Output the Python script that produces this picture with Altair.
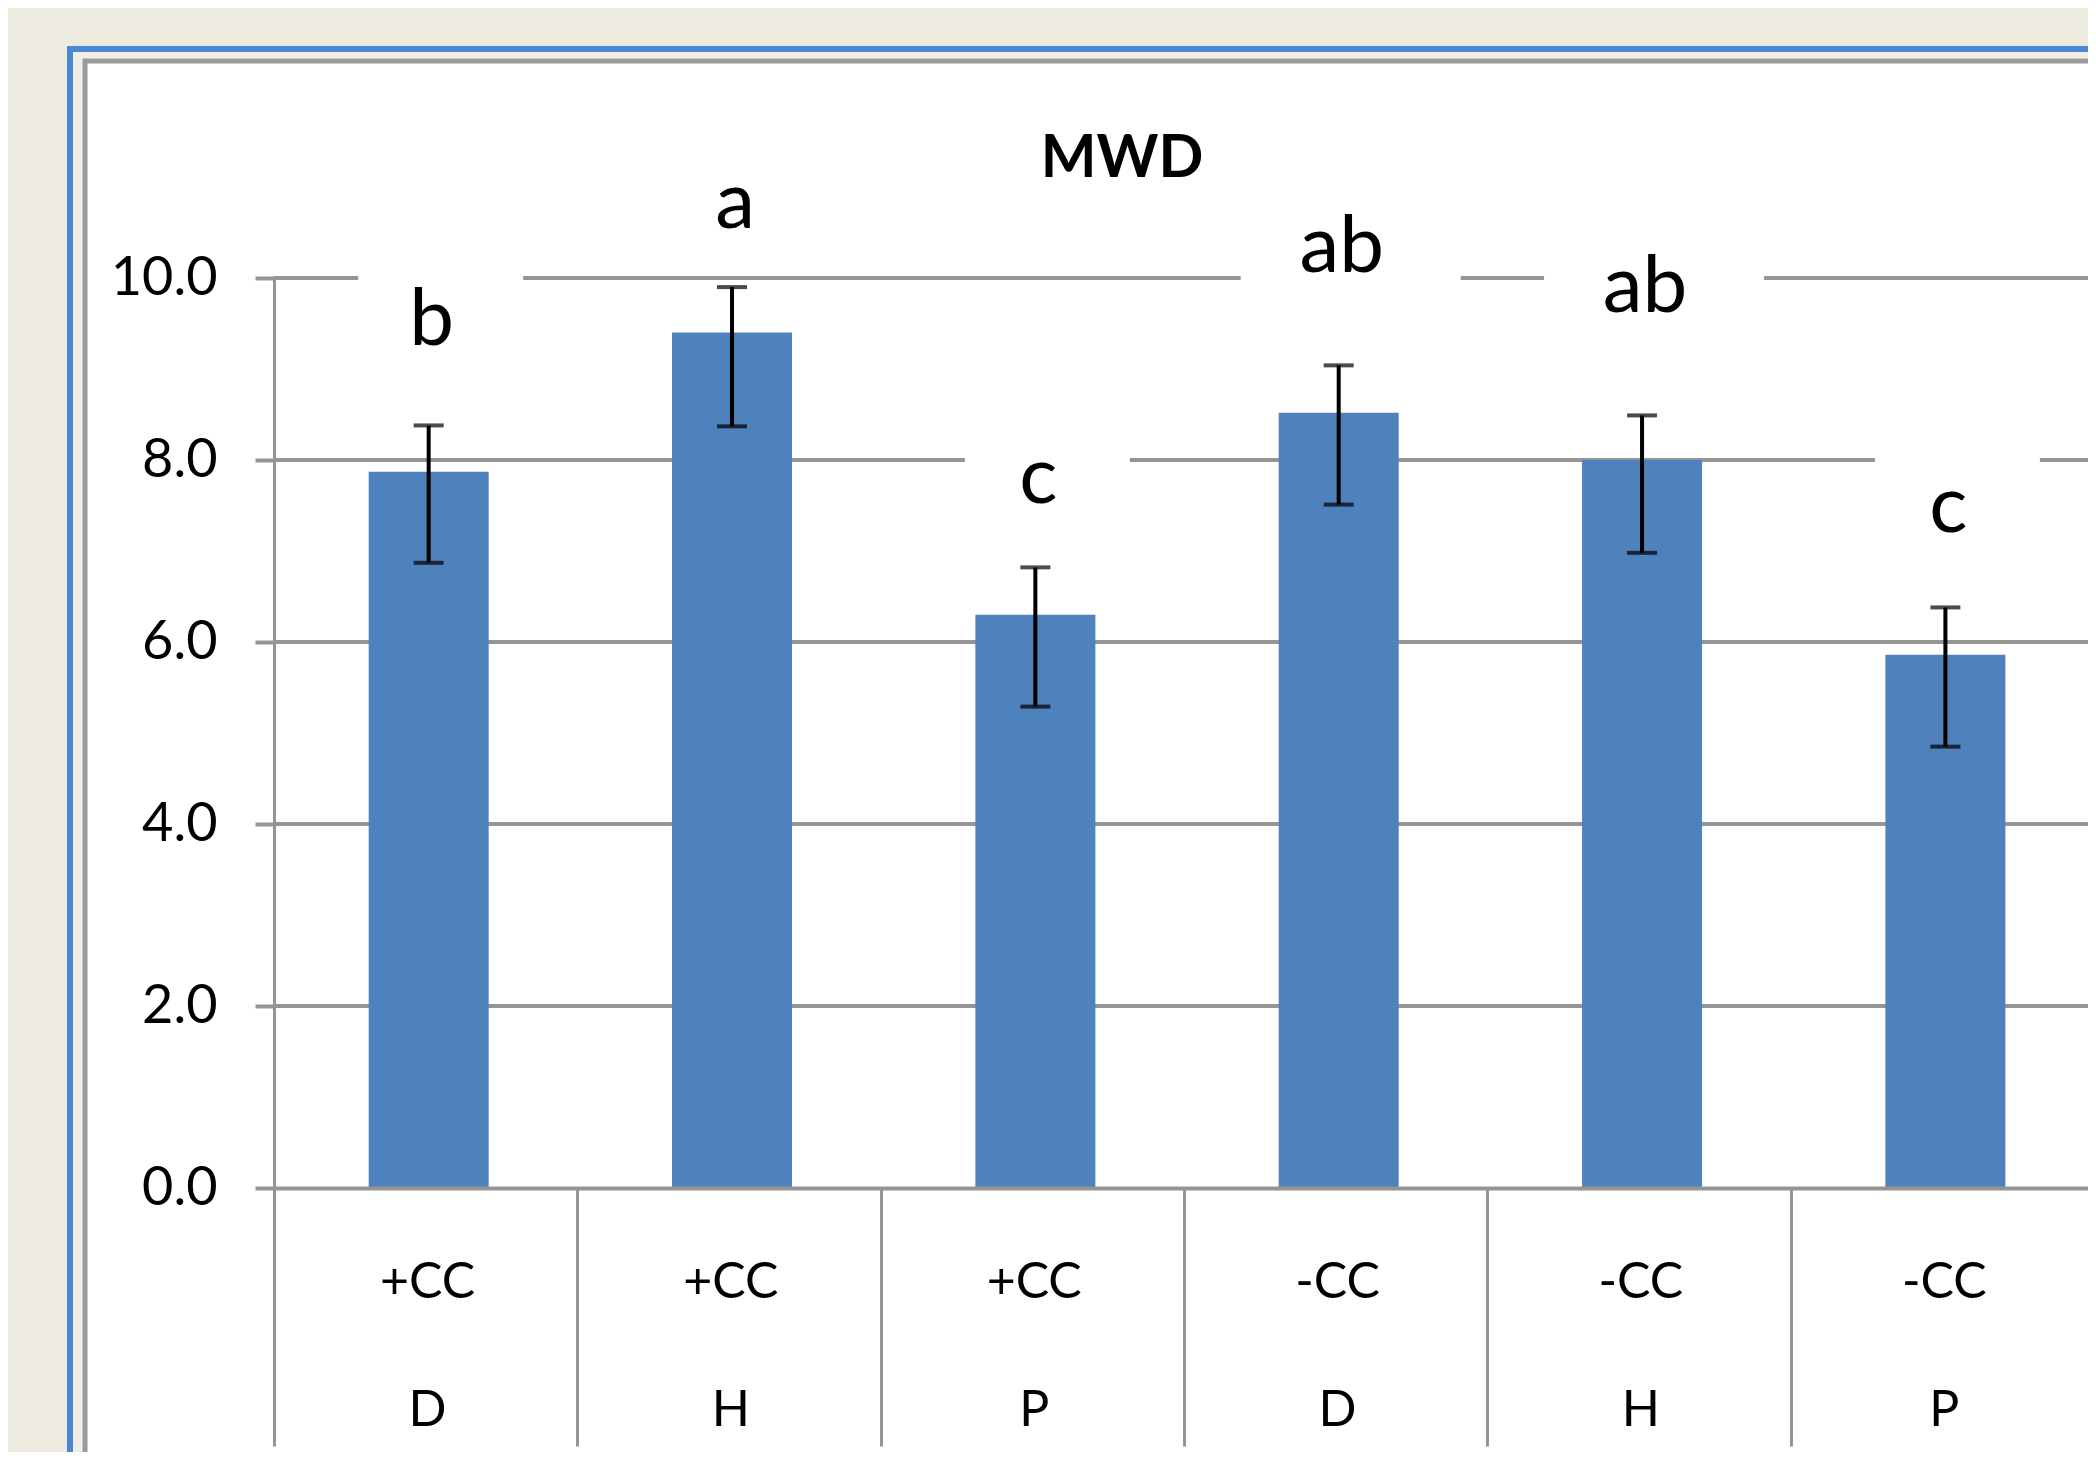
import json
import altair as alt
import pandas as pd

# ---------------- data ----------------
treatment = ["+CC", "+CC", "+CC", "-CC", "-CC", "-CC"]
site = ["D", "H", "P", "D", "H", "P"]
mwd = [7.87, 9.40, 6.30, 8.52, 8.00, 5.86]
err_high = [8.38, 9.90, 6.82, 9.04, 8.49, 6.38]
err_low = [6.87, 8.37, 5.29, 7.51, 6.98, 4.85]
letters = ["b", "a", "c", "ab", "ab", "c"]
letter_y = [9.26, 10.55, 7.53, 10.07, 9.63, 7.21]
y_ticks = [0, 2, 4, 6, 8, 10]
title_text = "MWD"

# ---------------- layout / style ----------------
W, H = 1814, 910
FONT = "Lato"
GRAY = "#959595"
BAR = "#4F81BD"
BG = "#EDEAE0"

df = pd.DataFrame({
    "pos": [i + 0.5 for i in range(len(mwd))],
    "treatment": treatment,
    "site": site,
    "mwd": mwd,
    "hi": err_high,
    "lo": err_low,
    "letter": letters,
    "ly": letter_y,
})
grid_df = pd.DataFrame({"v": y_ticks[1:], "pos": [0.5] * (len(y_ticks) - 1)})
one = pd.DataFrame({"k": [0]})

xs = alt.Scale(domain=[0, 5.98], nice=False, zero=False, padding=0)
ys = alt.Scale(domain=[0, 10], nice=False, zero=True, padding=0)

label_expr = "[{}[datum.value], {}[datum.value]]".format(
    json.dumps(treatment), json.dumps(site))

x_axis = alt.Axis(
    values=list(range(len(mwd))), title=None, grid=False, zindex=1,
    domainColor=GRAY, domainWidth=4,
    tickColor=GRAY, tickWidth=3, tickSize=258,
    labelExpr=label_expr, labelOffset=153, labelPadding=109 - 258,
    labelBaseline="alphabetic", labelAlign="center", labelLineHeight=128,
    labelFont=FONT, labelFontSize=50, labelColor="black",
    labelOverlap=False, labelBound=False, labelFlush=False,
)
y_axis = alt.Axis(
    values=y_ticks, format=".1f", title=None, grid=False, zindex=1,
    domainColor=GRAY, domainWidth=3,
    tickColor=GRAY, tickWidth=4, tickSize=19,
    labelFont=FONT, labelFontSize=54, labelColor="black", labelPadding=38,
    labelOverlap=False, labelBound=False, labelFlush=False,
)


def X(field):
    return alt.X(field, type="quantitative", scale=xs, axis=x_axis)


def Y(field):
    return alt.Y(field, type="quantitative", scale=ys, axis=y_axis)


base = alt.Chart(df)

# slide frame (decoration)
frame_blue = alt.Chart(one).mark_rect(fill="#EFEDE6", stroke="#4C87D3", strokeWidth=6).encode(
    x=alt.value(-204), y=alt.value(-229), x2=alt.value(W + 300), y2=alt.value(H + 600))
frame_gray = alt.Chart(one).mark_rect(fill="white", stroke="#9A9A9A", strokeWidth=5).encode(
    x=alt.value(-189), y=alt.value(-217), x2=alt.value(W + 300), y2=alt.value(H + 600))

grid = alt.Chart(grid_df).mark_rule(color=GRAY, strokeWidth=4).encode(
    y=Y("v"))

boxes = base.transform_calculate(
    b_lo="datum.ly - 0.27",
    b_hi="datum.ly + 1.1",
    bw="110 + 55 * length(datum.letter)",
).mark_bar(color="white", orient="vertical", xOffset=15).encode(
    x=X("pos"),
    y=Y("b_lo"),
    y2="b_hi:Q",
    size=alt.Size("bw:Q", scale=None, legend=None),
)

bars = base.mark_bar(color=BAR, size=120, orient="vertical", xOffset=3).encode(
    x=X("pos"),
    y=Y("mwd"),
)

stems = base.mark_rule(color="black", strokeWidth=4, xOffset=3).encode(
    x=X("pos"),
    y=Y("lo"),
    y2="hi:Q",
)
caps_hi = base.mark_tick(color="black", orient="horizontal", size=30, thickness=4, xOffset=3).encode(
    x=X("pos"),
    y=Y("hi"),
)
caps_lo = base.mark_tick(color="black", orient="horizontal", size=30, thickness=4, xOffset=3).encode(
    x=X("pos"),
    y=Y("lo"),
)

letter_text = base.mark_text(font=FONT, fontSize=80, baseline="alphabetic", align="center",
                             color="black", xOffset=6).encode(
    x=X("pos"),
    y=Y("ly"),
    text="letter:N",
)

title = alt.Chart(one).mark_text(font=FONT, fontSize=59, fontWeight="bold", baseline="alphabetic",
                                 align="center", color="black").encode(
    x=alt.value(W / 2 - 59), y=alt.value(-101), text=alt.value(title_text))

chart = alt.layer(
    frame_blue, frame_gray, grid, boxes, bars, stems, caps_hi, caps_lo, letter_text, title
).properties(
    width=W, height=H,
    padding={"left": 266, "top": 270, "right": 0, "bottom": 264},
    autosize=alt.AutoSizeParams(type="none"),
    background=BG,
).configure_view(stroke="transparent")

chart.save("out.html", embed_options={"renderer": "svg", "actions": False})
